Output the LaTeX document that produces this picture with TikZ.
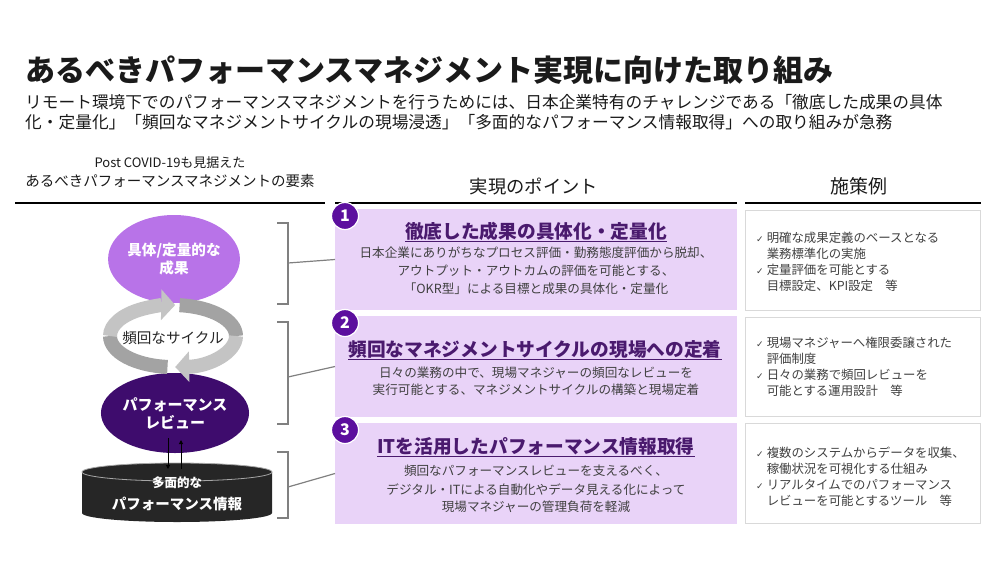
\documentclass[tikz,border=0pt]{standalone}
\usepackage{fontspec}
\setmainfont{Noto Sans CJK JP}
\newfontfamily\symfont{DejaVu Sans}
\usetikzlibrary{arrows.meta,shapes.geometric}

\definecolor{titleblack}{HTML}{1A1A1A}
\definecolor{bodygray}{HTML}{404040}
\definecolor{boxpurple}{HTML}{E9D3F8}
\definecolor{goalpurple}{HTML}{B873E8}
\definecolor{reviewpurple}{HTML}{3E0C6D}
\definecolor{numpurple}{HTML}{5C0F9E}
\definecolor{titlepurple}{HTML}{4A1A6E}
\definecolor{ringlight}{HTML}{C4C4C4}
\definecolor{ringdark}{HTML}{A3A3A3}
\definecolor{framegray}{HTML}{D9D9D9}
\definecolor{bracketgray}{HTML}{808080}
\definecolor{cylblack}{HTML}{262626}

\newcommand{\chk}{{\symfont\fontsize{9}{9}\selectfont ✓}\hspace{3pt}}
\newcommand{\ind}{\hphantom{\chk}}

\tikzset{
  headline/.style={line width=2.2pt},
  pointbox/.style={fill=boxpurple, inner sep=0pt, outer sep=0pt, minimum width=402pt, minimum height=101pt, anchor=north west},
  examplebox/.style={fill=white, draw=framegray, line width=0.9pt, inner sep=0pt, outer sep=0pt, minimum width=235pt, minimum height=100pt, anchor=north west},
  numcirc/.style={circle, fill=numpurple, draw=white, line width=1.2pt, minimum size=27pt, inner sep=0pt, text=white, font=\bfseries\fontsize{16}{16}\selectfont},
  pointtitle/.style={inner sep=0pt, text=titlepurple, font=\bfseries\fontsize{18.7}{22}\selectfont},
  pointtext/.style={inner sep=0pt, align=center, text=bodygray, font=\fontsize{12.6}{18}\selectfont},
  exampletext/.style={inner sep=0pt, anchor=west, align=left, text=bodygray, font=\fontsize{12.4}{16}\selectfont},
  bracket/.style={draw=bracketgray, line width=1.2pt},
  ringband/.style={line width=14pt},
  ringtip/.style={-{Triangle[length=14pt, width=30pt]}},
  infoarrow/.style={line width=1pt, -{Triangle[length=4pt, width=4pt]}}
}

\begin{document}
\begin{tikzpicture}[x=1pt,y=-1pt]

\useasboundingbox (0,0) rectangle (1000,562);

\node [anchor=west, inner sep=0pt, text=titleblack, font=\bfseries\fontsize{30}{36}\selectfont] (title) at (25,70) {あるべきパフォーマンスマネジメント実現に向けた取り組み};
\node [anchor=west, inner sep=0pt, align=left, text=titleblack, font=\fontsize{16.7}{20.5}\selectfont] (lead) at (25,112)
{リモート環境下でのパフォーマンスマネジメントを行うためには、日本企業特有のチャレンジである「徹底した成果の具体\\
化・定量化」「頻回なマネジメントサイクルの現場浸透」「多面的なパフォーマンス情報取得」への取り組みが急務};

\node [inner sep=0pt, text=titleblack, font=\fontsize{13}{15}\selectfont] (lhead1) at (170,163) {Post COVID-19も見据えた};
\node [inner sep=0pt, text=titleblack, font=\fontsize{14.5}{17}\selectfont] (lhead2) at (170,181) {あるべきパフォーマンスマネジメントの要素};
\node [inner sep=0pt, text=titleblack, font=\fontsize{18.3}{22}\selectfont] (mhead) at (534,187) {実現のポイント};
\node [inner sep=0pt, text=titleblack, font=\fontsize{19}{22}\selectfont] (rhead) at (859,186) {施策例};

\draw [headline] (15,203) -- (325,203);
\draw [headline] (335,203) -- (737,203);
\draw [headline] (745,203) -- (981,203);

\node [pointbox] (pt1) at (335,209) {};
\node [pointbox] (pt2) at (335,316) {};
\node [pointbox] (pt3) at (335,423) {};

\node [examplebox] (ex1) at (745,210) {};
\node [examplebox, minimum height=99pt] (ex2) at (745,317) {};
\node [examplebox] (ex3) at (745,423) {};

\node [numcirc] (n1) at (345,216) {1};
\node [numcirc] (n2) at (345,323) {2};
\node [numcirc] (n3) at (345,430) {3};

\node [pointtitle] (t1) at (536,232) {\underline{徹底した成果の具体化・定量化}};
\node [pointtext] (b1) at (536,271)
{日本企業にありがちなプロセス評価・勤務態度評価から脱却、\\
アウトプット・アウトカムの評価を可能とする、\\
「OKR型」による目標と成果の具体化・定量化};

\node [pointtitle] (t2) at (535,350) {\underline{頻回なマネジメントサイクルの現場への定着}};
\node [pointtext, font=\fontsize{12.6}{17}\selectfont] (b2) at (536,381)
{日々の業務の中で、現場マネジャーの頻回なレビューを\\
実行可能とする、マネジメントサイクルの構築と現場定着};

\node [pointtitle] (t3) at (536,447) {\underline{ITを活用したパフォーマンス情報取得}};
\node [pointtext] (b3) at (536,489)
{頻回なパフォーマンスレビューを支えるべく、\\[1.5pt]
デジタル・ITによる自動化やデータ見える化によって\\[-1pt]
現場マネジャーの管理負荷を軽減};

\node [exampletext] (e1) at (756,262)
{\chk 明確な成果定義のベースとなる\\
\ind 業務標準化の実施\\
\chk 定量評価を可能とする\\
\ind 目標設定、KPI設定　等};
\node [exampletext] (e2) at (756,367)
{\chk 現場マネジャーへ権限委譲された\\
\ind 評価制度\\
\chk 日々の業務で頻回レビューを\\
\ind 可能とする運用設計　等};
\node [exampletext] (e3) at (756,477)
{\chk 複数のシステムからデータを収集、\\
\ind 稼働状況を可視化する仕組み\\
\chk リアルタイムでのパフォーマンス\\
\ind レビューを可能とするツール　等};

\node [ellipse, fill=goalpurple, minimum width=122pt, minimum height=88pt, inner sep=0pt, align=center, text=white, font=\bfseries\fontsize{14.6}{18}\selectfont] (goal) at (174,259) {具体/定量的な\\成果};
\node [ellipse, fill=reviewpurple, minimum width=124pt, minimum height=80pt, inner sep=0pt, align=center, text=white, font=\bfseries\fontsize{15}{18}\selectfont] (review) at (175,413) {パフォーマンス\\レビュー};

\draw [ringband, ringdark] (167.5,366.9) arc [start angle=95, end angle=180, x radius=63, y radius=31];
\draw [ringband, ringlight, ringtip] (110,336) arc [start angle=180, end angle=272, x radius=63, y radius=31];
\draw [ringband, ringdark] (179.6,305.2) arc [start angle=276, end angle=360, x radius=63, y radius=31];
\draw [ringband, ringlight, ringtip] (236,336) arc [start angle=0, end angle=88, x radius=63, y radius=31];
\node [inner sep=0pt, text=cylblack, font=\fontsize{14.6}{17}\selectfont] (cycle) at (173,338) {頻回なサイクル};

\fill [cylblack] (82,472) -- (82,513) arc [start angle=180, end angle=0, x radius=95, y radius=9] -- (272,472) -- cycle;
\filldraw [fill=cylblack, draw=gray!70, line width=0.8pt] (177,472) ellipse [x radius=95, y radius=9];
\node [inner sep=0pt, align=center, text=white, font=\bfseries\fontsize{14.5}{22}\selectfont] (info) at (177,494) {{\fontsize{12.5}{22}\selectfont 多面的な}\\パフォーマンス情報};

\coordinate (downA) at (168,438);
\coordinate (downB) at (168,469);
\coordinate (upA) at (181,469);
\coordinate (upB) at (181,440);
\draw [infoarrow] (downA) -- (downB);
\draw [infoarrow] (upA) -- (upB);

\coordinate (bk1) at (288,263);
\coordinate (bk2) at (288,377);
\coordinate (bk3) at (288,487);
\draw [bracket] (277,223) -- (288,223) -- (288,304) -- (277,304);
\draw [bracket] (277,322) -- (288,322) -- (288,424) -- (277,424);
\draw [bracket] (277,452) -- (288,452) -- (288,518) -- (277,518);
\draw [bracket] (bk1) -- (pt1.west);
\draw [bracket] (bk2) -- (pt2.west);
\draw [bracket] (bk3) -- (pt3.west);

\end{tikzpicture}
\end{document}
